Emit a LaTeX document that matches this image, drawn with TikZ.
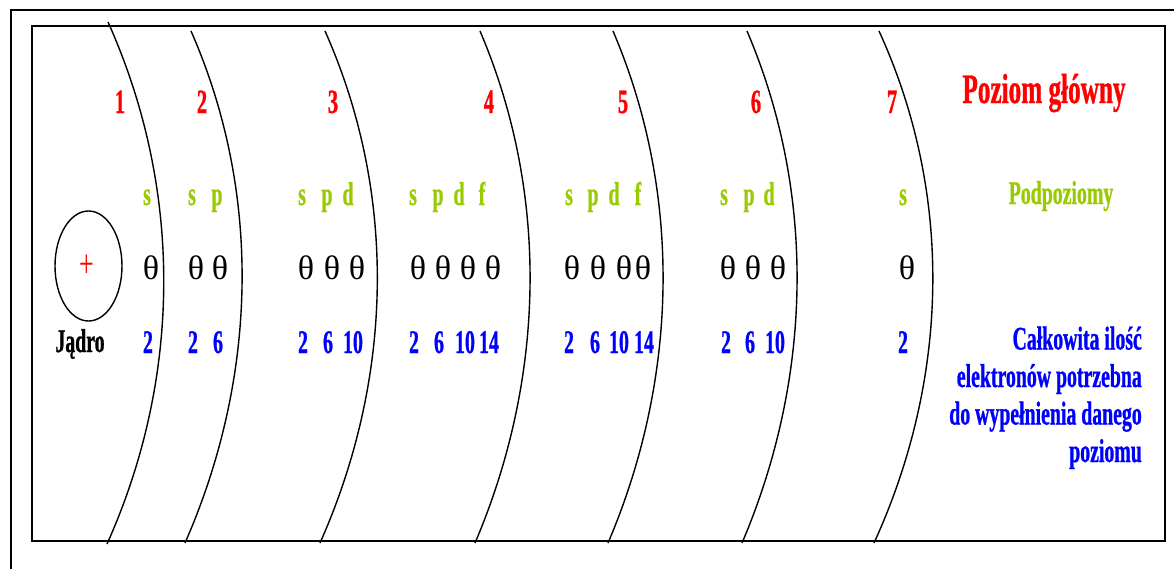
\documentclass[tikz,border=0pt]{standalone}
\usepackage{fontspec}
\setmainfont{Liberation Serif}
\newfontfamily\cnd[FakeStretch=0.6, FakeBold=0.8, UprightFont={* Bold}, BoldFont={* Bold}]{Liberation Serif}
\newfontfamily\plainfont[FakeStretch=0.65]{Liberation Serif}
\newfontfamily\thetafont{Liberation Serif}
\usetikzlibrary{shapes.geometric}
\definecolor{lvred}{RGB}{255,0,0}
\definecolor{lvgreen}{RGB}{153,204,0}
\definecolor{lvblue}{RGB}{0,0,255}
\tikzset{
  lvl/.style={text=lvred, font=\cnd\fontsize{34}{34}\selectfont, inner sep=0pt, anchor=base},
  sub/.style={text=lvgreen, font=\cnd\fontsize{33}{33}\selectfont, inner sep=0pt, anchor=base},
  el/.style={text=black, font=\thetafont\fontsize{34}{34}\selectfont, inner sep=0pt, anchor=base},
  cnt/.style={text=lvblue, font=\cnd\fontsize{33}{33}\selectfont, inner sep=0pt, anchor=base},
  shell/.style={draw=black, line width=1.4pt},
}
\begin{document}
\begin{tikzpicture}[x=1pt,y=-1pt]
\useasboundingbox (0,0) rectangle (1174,568);
\fill[white] (0,0) rectangle (1174,568);
% frames
\draw[line width=1.2pt] (11,580) -- (11,10) -- (1190,10);
\draw[line width=1.8pt] (32,26) rectangle (1165,541);
% shells
\draw[shell] (108,22) .. controls (183,189) and (182,377) .. (107,544);
\draw[shell] (191,31) .. controls (263,195) and (257,379) .. (185,543);
\draw[shell] (325,31) .. controls (398,195) and (393,379) .. (320,543);
\draw[shell] (480,31) .. controls (550,195) and (545,379) .. (475,543);
\draw[shell] (613,31) .. controls (683,195) and (678,379) .. (608,543);
\draw[shell] (747,31) .. controls (817,195) and (812,379) .. (742,543);
\draw[shell] (879,31) .. controls (954,195) and (949,379) .. (874,543);
% nucleus
\node[draw, ellipse, line width=1.4pt, minimum width=67pt, minimum height=110pt, inner sep=0pt] (nucleus) at (88.5,266) {};
\node[text=lvred, font=\plainfont\fontsize{40}{40}\selectfont, inner sep=0pt] (plus) at (87,266) {+};
\node[font=\cnd\fontsize{33}{33}\selectfont, inner sep=0pt, anchor=base] (jadro) at (80,352) {Jądro};
% main levels
\foreach \x/\t in {120/1,202/2,333/3,489/4,623/5,756/6,892/7}
  \node[lvl] (lv\t) at (\x,113) {\t};
% sublevels
\foreach \x/\t [count=\i] in {147/s,192/s,217/p,302/s,327/p,348/d,413/s,438/p,459/d,482/f,569/s,593/p,614/d,638/f,724/s,749/p,769/d,903/s}
  \node[sub] (sub\i) at (\x,205) {\t};
% electrons
\foreach \x [count=\i] in {151,196,220,306,332,357,418,443,468,493,572,598,624,643,728,753,778,907}
  \node[el] (el\i) at (\x,279) {θ};
% counts
\foreach \x/\t [count=\i] in {148/2,193/2,218/6,303/2,328/6,353/10,414/2,439/6,465/10,489/14,569/2,595/6,619/10,644/14,726/2,750/6,775/10,903/2}
  \node[cnt] (cnt\i) at (\x,353) {\t};
% legend
\node[text=lvred, font=\cnd\fontsize{42}{42}\selectfont, inner sep=0pt, anchor=base] (title) at (1044,103) {Poziom główny};
\node[text=lvgreen, font=\cnd\fontsize{33}{33}\selectfont, inner sep=0pt, anchor=base] (subtitle) at (1061,204) {Podpoziomy};
\node[text=lvblue, font=\cnd\fontsize{33}{37.5}\selectfont, inner sep=0pt, anchor=base east, align=right] (total) at (1142,462) {Całkowita ilość\\elektronów potrzebna\\do wypełnienia danego\\poziomu};
\end{tikzpicture}
\end{document}
